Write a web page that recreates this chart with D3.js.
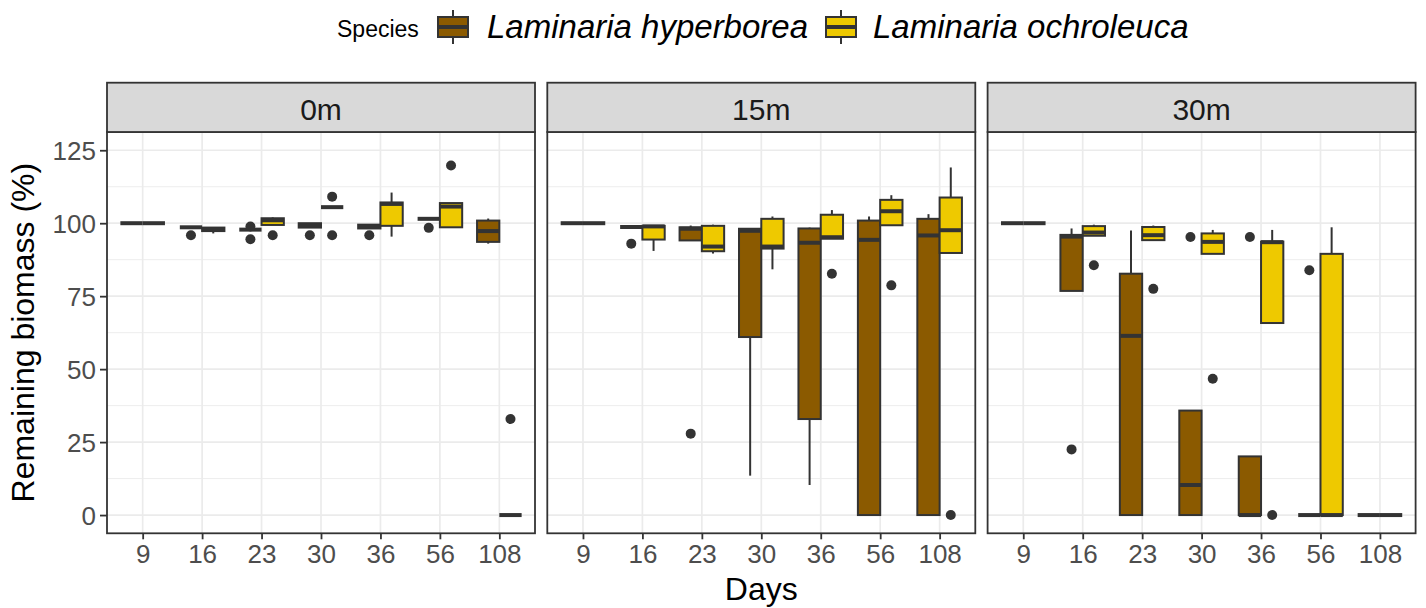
<!DOCTYPE html>
<html><head><meta charset="utf-8">
<script src="https://cdn.jsdelivr.net/npm/d3@7"></script>
<style>
body{margin:0;background:#fff}
text{font-family:"Liberation Sans",Arial,Helvetica,sans-serif}
</style>
</head><body>
<svg id="c" width="1426" height="608"></svg>
<script>
// ---------- data ----------
const days = ["9","16","23","30","36","56","108"];
const depths = ["0m","15m","30m"];
const species = ["Laminaria hyperborea","Laminaria ochroleuca"];
const speciesColors = ["#8B5A00","#EEC900"];
const yTicks = [0,25,50,75,100,125];
const yMinor = [12.5,37.5,62.5,87.5,112.5];

// box stats per day: [lower whisker, Q1, median, Q3, upper whisker]
const hyp0m = [
  [100,100,100,100,100],
  [98.6,98.6,98.6,98.6,98.6],
  [97.8,97.8,97.8,97.8,97.8],
  [98.5,98.5,99.2,100,100],
  [98.2,98.2,98.8,99.5,99.5],
  [101.5,101.5,101.5,101.5,101.5],
  [93,93.6,97.3,100.9,101.6]
];
const och0m = [
  [100,100,100,100,100],
  [96.5,97.3,97.9,98.5,98.5],
  [99.4,99.4,101,101.7,102],
  [105.5,105.5,105.5,105.5,105.5],
  [95.4,99.1,106.6,107.1,110.5],
  [98.6,98.6,105.7,106.9,106.9],
  [0,0,0,0,0]
];
const hypOut0m = [["16",95.9],["23",98.9],["23",94.5],["30",95.9],["36",95.9],["56",98.4]];
const ochOut0m = [["23",95.9],["30",109.1],["30",95.9],["56",119.8],["108",32.9]];

const hyp15m = [
  [100,100,100,100,100],
  [98.7,98.7,98.7,98.7,98.7],
  [94.1,94.1,98.1,98.6,99.2],
  [13.5,61,97.4,98.1,98.1],
  [10.3,32.9,93.3,98.2,98.5],
  [0,0,94.3,100.9,102.3],
  [0,0,95.8,101.5,103.1]
];
const och15m = [
  [100,100,100,100,100],
  [90.5,94.4,98.9,99.1,99.1],
  [89.6,90.4,92,99.1,99.5],
  [84.2,91.3,92,101.5,102.3],
  [94.7,94.7,95.2,102.9,104.5],
  [99.3,99.3,104.1,108,109.6],
  [89.8,89.8,97.6,108.8,119.1]
];
const hypOut15m = [["16",93],["23",27.9]];
const ochOut15m = [["36",82.7],["56",78.7],["108",0]];

const hyp30m = [
  [100,100,100,100,100],
  [76.8,76.8,95.4,96,98.2],
  [0,0,61.4,82.7,97.5],
  [0,0,10.3,35.8,35.8],
  [0,0,0,20.1,20.1],
  [0,0,0,0,0],
  [0,0,0,0,0]
];
const och30m = [
  [100,100,100,100,100],
  [95.7,95.7,96.8,99,99.5],
  [94.2,94.2,95.9,98.7,99.2],
  [89.5,89.5,93.6,96.5,97.7],
  [65.8,65.8,93.5,93.7,97.7],
  [0,0,0,89.5,98.6],
  [0,0,0,0,0]
];
const hypOut30m = [["16",22.5],["30",95.3],["36",95.3],["56",83.9]];
const ochOut30m = [["16",85.6],["23",77.5],["30",46.7],["36",0]];

const panelStats = [[hyp0m,och0m],[hyp15m,och15m],[hyp30m,och30m]];
const panelOut = [[hypOut0m,ochOut0m],[hypOut15m,ochOut15m],[hypOut30m,ochOut30m]];

// ---------- layout ----------
const svg = d3.select("#c");
const plotTop = 132, plotBottom = 533.3, stripTop = 82.7;
const panelLeft = 107, panelW = 428, gap = 12.3;
const dark = "#333333";
const lw = 2, mw = 4;

const y = d3.scaleLinear().domain([-6.25,131.25]).range([plotBottom, plotTop]);

depths.forEach((dep, pi) => {
  const x0 = panelLeft + pi*(panelW+gap), x1 = x0 + panelW;
  const x = d3.scalePoint().domain(days).range([x0,x1]).padding(0.6);
  const step = x.step();
  const dodge = d3.scaleBand().domain(species).range([-step*0.375, step*0.375]).padding(0);
  const bw = dodge.bandwidth();
  const g = svg.append("g");

  // background + grid
  g.append("rect").attr("x",x0).attr("y",plotTop).attr("width",panelW).attr("height",plotBottom-plotTop).attr("fill","#fff");
  g.selectAll(".gmin").data(yMinor).join("line")
    .attr("x1",x0).attr("x2",x1).attr("y1",d=>y(d)).attr("y2",d=>y(d))
    .attr("stroke","#EBEBEB").attr("stroke-width",0.9);
  g.selectAll(".gmaj").data(yTicks).join("line")
    .attr("x1",x0).attr("x2",x1).attr("y1",d=>y(d)).attr("y2",d=>y(d))
    .attr("stroke","#EBEBEB").attr("stroke-width",1.7);
  g.selectAll(".gx").data(days).join("line")
    .attr("x1",d=>x(d)).attr("x2",d=>x(d)).attr("y1",plotTop).attr("y2",plotBottom)
    .attr("stroke","#EBEBEB").attr("stroke-width",1.7);

  // boxes
  species.forEach((sp, si) => {
    const stats = panelStats[pi][si];
    days.forEach((d, di) => {
      const s = stats[di];
      const cx = x(d) + dodge(sp) + bw/2;
      const bg = g.append("g");
      bg.append("line").attr("x1",cx).attr("x2",cx).attr("y1",y(s[0])).attr("y2",y(s[1]))
        .attr("stroke",dark).attr("stroke-width",lw);
      bg.append("line").attr("x1",cx).attr("x2",cx).attr("y1",y(s[3])).attr("y2",y(s[4]))
        .attr("stroke",dark).attr("stroke-width",lw);
      bg.append("rect").attr("x",cx-bw/2).attr("width",bw)
        .attr("y",y(s[3])).attr("height",Math.max(0,y(s[1])-y(s[3])))
        .attr("fill",speciesColors[si]).attr("stroke",dark).attr("stroke-width",lw);
      bg.append("line").attr("x1",cx-bw/2).attr("x2",cx+bw/2).attr("y1",y(s[2])).attr("y2",y(s[2]))
        .attr("stroke",dark).attr("stroke-width",mw);
    });
    g.selectAll(null).data(panelOut[pi][si]).join("circle")
      .attr("cx",d=>x(d[0]) + dodge(sp) + bw/2).attr("cy",d=>y(d[1])).attr("r",5)
      .attr("fill",dark);
  });

  // border
  g.append("rect").attr("x",x0).attr("y",plotTop).attr("width",panelW).attr("height",plotBottom-plotTop)
    .attr("fill","none").attr("stroke",dark).attr("stroke-width",1.8);
  // strip
  g.append("rect").attr("x",x0).attr("y",stripTop).attr("width",panelW).attr("height",plotTop-stripTop)
    .attr("fill","#D9D9D9").attr("stroke",dark).attr("stroke-width",1.8);
  g.append("text").attr("x",(x0+x1)/2).attr("y",120).attr("text-anchor","middle")
    .attr("font-size",30).attr("fill","#1A1A1A").text(dep);

  // x axis
  const ax = g.append("g").attr("transform",`translate(0,${plotBottom})`)
    .call(d3.axisBottom(x).tickSize(6).tickPadding(5));
  ax.select(".domain").remove();
  ax.selectAll(".tick line").attr("stroke",dark).attr("stroke-width",1.8);
  ax.selectAll(".tick text").attr("font-size",26).attr("fill","#4D4D4D")
    .attr("font-family","Liberation Sans, Arial, sans-serif").attr("dy","0.72em");

  if (pi === 0) {
    const ay = g.append("g").attr("transform",`translate(${x0},0)`)
      .call(d3.axisLeft(y).tickValues(yTicks).tickSize(7).tickPadding(4));
    ay.select(".domain").remove();
    ay.selectAll(".tick line").attr("stroke",dark).attr("stroke-width",1.8);
    ay.selectAll(".tick text").attr("font-size",26).attr("fill","#4D4D4D")
      .attr("font-family","Liberation Sans, Arial, sans-serif").attr("dy","0.36em");
  }
});

// axis titles
svg.append("text").attr("x",(panelLeft + panelLeft+3*panelW+2*gap)/2).attr("y",600)
  .attr("text-anchor","middle").attr("font-size",32).attr("fill","#000").text("Days");
svg.append("text").attr("transform",`translate(34,${(plotTop+plotBottom)/2}) rotate(-90)`)
  .attr("text-anchor","middle").attr("font-size",32).attr("fill","#000").text("Remaining biomass (%)");

// legend
const leg = svg.append("g");
leg.append("text").attr("x",337).attr("y",37).attr("font-size",23).attr("fill","#000").text("Species");
const keyX = [438, 826], textX = [487, 873];
species.forEach((sp, si) => {
  const kx = keyX[si], kw = 30, cx = kx + kw/2;
  leg.append("line").attr("x1",cx).attr("x2",cx).attr("y1",10).attr("y2",44).attr("stroke",dark).attr("stroke-width",lw);
  leg.append("rect").attr("x",kx).attr("y",17).attr("width",kw).attr("height",20)
    .attr("fill",speciesColors[si]).attr("stroke",dark).attr("stroke-width",lw);
  leg.append("line").attr("x1",kx).attr("x2",kx+kw).attr("y1",27).attr("y2",27).attr("stroke",dark).attr("stroke-width",mw);
  leg.append("text").attr("x",textX[si]).attr("y",38).attr("font-size",33).attr("font-style","italic")
    .attr("fill","#000").text(sp);
});
</script>
</body></html>
